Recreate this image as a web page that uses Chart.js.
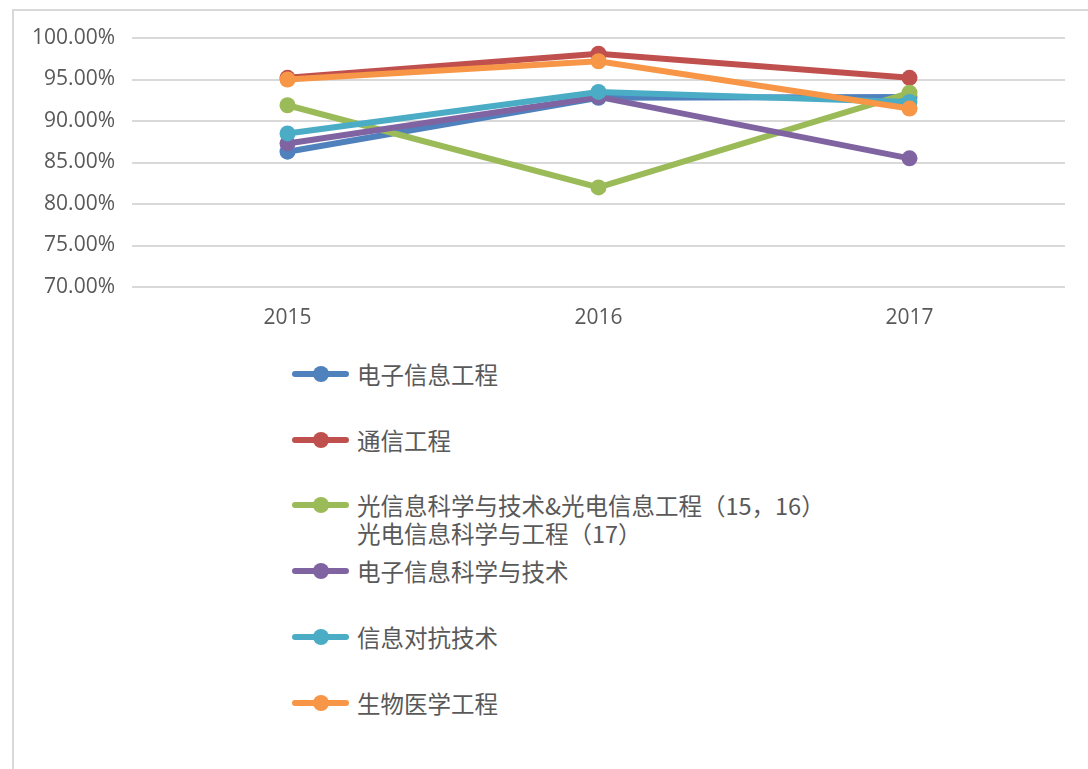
<!DOCTYPE html>
<html>
<head>
<meta charset="utf-8">
<script src="https://cdn.jsdelivr.net/npm/chart.js@4"></script>
<style>
  html, body { margin: 0; padding: 0; background: #fff; overflow: hidden; }
  body { width: 1088px; height: 769px; position: relative; }
  #frame { position: absolute; left: 12px; top: 9px; width: 1100px; height: 800px; border: 2px solid #d9d9d9; box-sizing: border-box; }
  #wrap { position: absolute; left: 0; top: 0; width: 1088px; height: 340px; }
  #legend { position: absolute; left: 292px; top: 341px; font-family: "Noto Sans CJK SC", sans-serif; font-size: 23.5px; color: #595959; }
  .item { display: flex; align-items: flex-start; height: 65.8px; padding-top: 18.9px; box-sizing: border-box; }
  .key { position: relative; width: 57px; height: 28px; margin-right: 8px; flex: none; }
  .key .ln { position: absolute; left: 0; right: 0; top: 11px; height: 6px; border-radius: 3px; }
  .key .dot { position: absolute; left: 20.5px; top: 6px; width: 16px; height: 16px; border-radius: 50%; }
  .txt { line-height: 28px; white-space: pre; }
</style>
</head>
<body>
<div id="frame"></div>
<div id="wrap"><canvas id="myChart" width="1088" height="340"></canvas></div>
<div id="legend"></div>
<script>
let years = ['2015', '2016', '2017'];

let seriesNames = [
    '电子信息工程',
    '通信工程',
    '光信息科学与技术&光电信息工程（15，16）\n光电信息科学与工程（17）',
    '电子信息科学与技术',
    '信息对抗技术',
    '生物医学工程'
];

let seriesColors = ['#4F81BD', '#C0504D', '#9BBB59', '#8064A2', '#4BACC6', '#F79646'];

// employment rate, percent
let dianziXinxi = [86.3, 92.8, 92.9];
let tongxin = [95.2, 98.1, 95.2];
let guangdian = [91.9, 82.0, 93.4];
let dianziKexue = [87.3, 92.9, 85.5];
let duikang = [88.5, 93.5, 92.3];
let shengwu = [95.0, 97.2, 91.5];

let allValues = [dianziXinxi, tongxin, guangdian, dianziKexue, duikang, shengwu];

let yTicks = [70, 75, 80, 85, 90, 95, 100];

let $ = (tag) => {
    return document.querySelector(tag);
}

let datasets = allValues.map((vals, i) => {
    return {
        label: seriesNames[i],
        data: vals,
        borderColor: seriesColors[i],
        backgroundColor: seriesColors[i],
        pointBackgroundColor: seriesColors[i],
        pointBorderWidth: 0,
        pointRadius: 8,
        borderWidth: 6,
        tension: 0,
        // later series sit on top, like the original sheet
        order: allValues.length - i
    }
})

let ctx = $('#myChart').getContext('2d');

let myChart = new Chart(ctx, {
    type: 'line',
    data: {
        labels: years,
        datasets: datasets
    },
    options: {
        responsive: false,
        animation: false,
        layout: {
            padding: { left: 12, right: 23, top: 38, bottom: 0 }
        },
        plugins: {
            legend: { display: false },
            tooltip: { enabled: false }
        },
        scales: {
            x: {
                offset: true,
                grid: { display: false, drawTicks: false },
                border: { display: false },
                ticks: {
                    padding: 18,
                    color: '#595959',
                    font: { family: 'Open Sans', size: 21 }
                },
                afterFit: (scale) => { scale.height = 53; }
            },
            y: {
                min: yTicks[0],
                max: yTicks[yTicks.length - 1],
                afterBuildTicks: (scale) => {
                    scale.ticks = yTicks.map(v => ({ value: v }));
                },
                grid: { color: '#d9d9d9', lineWidth: 2, drawTicks: false },
                border: { display: false },
                ticks: {
                    padding: 17,
                    color: '#595959',
                    font: { family: 'Open Sans', size: 21 },
                    callback: (v) => v.toFixed(2) + '%'
                },
                afterFit: (scale) => { scale.width = 120; }
            }
        }
    }
})

// legend, one item per row
seriesNames.forEach((name, i) => {
    let item = document.createElement('div');
    item.className = 'item';
    item.innerHTML = `<div class="key"><div class="ln" style="background:${seriesColors[i]}"></div><div class="dot" style="background:${seriesColors[i]}"></div></div><div class="txt"></div>`;
    item.querySelector('.txt').textContent = name;
    $('#legend').appendChild(item);
})
</script>
</body>
</html>
